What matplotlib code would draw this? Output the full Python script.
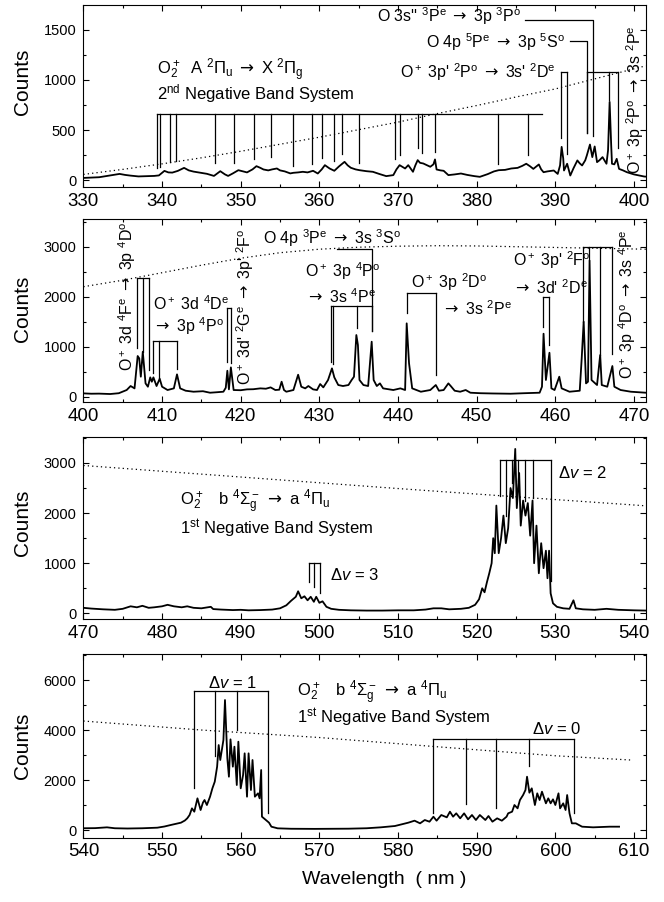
#!/usr/bin/env python3
"""
Emission spectrum of the O2+ / O / O+ lines, four wavelength windows
"""

import matplotlib

matplotlib.use("Agg")
import matplotlib.pyplot as plt
from matplotlib.ticker import MultipleLocator

plt.rcParams["font.family"] = ["Liberation Sans", "DejaVu Sans"]
plt.rcParams["mathtext.fontset"] = "custom"
plt.rcParams["mathtext.rm"] = "Liberation Sans"
plt.rcParams["mathtext.it"] = "Liberation Sans:italic"
plt.rcParams["mathtext.bf"] = "Liberation Sans:bold"
plt.rcParams["mathtext.sf"] = "DejaVu Sans"

# ---------------- 330-400 nm ----------------
p1_wl = [330.0, 331.0, 332.0, 333.0, 334.0, 334.6, 335.3, 336.0, 337.0, 338.0,
         339.0, 339.6, 340.3, 340.8, 341.3, 342.0, 342.8, 343.4, 344.0, 345.0,
         345.7, 346.6, 347.4, 348.0, 348.4, 349.0, 349.7, 350.3, 350.8, 351.5,
         352.0, 352.5, 352.9, 353.5, 354.0, 354.6, 355.0, 355.6, 356.3, 356.7,
         357.3, 357.9, 358.5, 359.2, 359.8, 360.3, 360.7, 361.3, 361.9, 362.5,
         363.2, 363.6, 364.0, 364.6, 365.1, 366.0, 366.8, 367.6, 368.5, 369.4,
         369.8, 370.2, 370.9, 371.3, 371.9, 372.2, 372.5, 372.8, 373.2, 373.7,
         374.1, 374.5, 374.7, 374.9, 375.4, 375.8, 376.4, 377.2, 378.0, 378.8,
         379.7, 380.4, 381.4, 382.2, 382.8, 383.6, 384.4, 385.2, 385.8, 386.3,
         386.8, 387.2, 387.9, 388.2, 388.5, 389.0, 389.8, 390.3, 390.6, 390.8,
         391.0, 391.1, 391.5, 391.9, 392.3, 392.8, 393.1, 393.4, 393.8, 394.0,
         394.4, 394.6, 394.7, 395.0, 395.3, 395.6, 396.0, 396.5, 396.7, 396.9,
         397.1, 397.2, 397.5, 397.8, 398.1, 398.6, 399.1, 400.0, 400.6, 401.3,
         401.5]
p1_counts = [25, 28, 32, 45, 58, 65, 55, 48, 40, 42,
             45, 50, 95, 80, 78, 95, 125, 100, 88, 75,
             66, 45, 92, 60, 45, 70, 102, 90, 80, 110,
             142, 125, 109, 100, 110, 119, 100, 90, 70, 76,
             80, 86, 80, 96, 69, 110, 152, 119, 96, 140,
             185, 150, 126, 110, 102, 92, 86, 65, 43, 53,
             110, 152, 119, 152, 86, 150, 202, 175, 169, 150,
             136, 160, 209, 109, 100, 96, 53, 60, 69, 55,
             43, 36, 63, 90, 102, 105, 119, 125, 145, 166,
             140, 115, 159, 110, 82, 90, 99, 65, 150, 334,
             220, 99, 166, 49, 120, 199, 170, 149, 200, 248,
             357, 270, 232, 338, 182, 200, 232, 166, 300, 781,
             350, 166, 160, 215, 115, 100, 82, 60, 50, 39,
             38]
p1_eff_wl = [330, 335, 340, 345, 350, 355, 360, 365, 370, 375, 380, 385, 390, 395, 401.5]
p1_eff = [60, 110, 165, 225, 290, 360, 430, 505, 580, 665, 745, 830, 910, 1010, 1140]

# O2+ 2nd negative band heads
p1_band_x = [339.3, 339.7, 341.0, 341.8, 346.7, 349.2, 351.7, 353.8, 356.7, 359.1,
             360.3, 361.9, 362.9, 365.1, 369.6, 370.3, 372.5, 373.1, 374.7, 382.7,
             386.5]
p1_band_end = [119, 135, 185, 192, 169, 169, 209, 229, 142, 159,
               228, 192, 261, 169, 212, 258, 318, 274, 278, 159,
               251]
p1_band_top = 665
p1_band_span = [339.3, 388.3]

# atomic lines near 390-398 nm
p1_o3s_x, p1_o3s_end, p1_o3s_top, p1_o3s_from = 394.75, 440, 1592, 386.15
p1_o4p_x, p1_o4p_end, p1_o4p_top, p1_o4p_from = 394.08, 473, 1384, 391.9
p1_opd_x = [390.73, 391.45]
p1_opd_end = [427, 261]
p1_opp_x = [394.08, 396.88, 397.98]
p1_opp_end = [473, 797, 318]
p1_ion_top = 1080

# ---------------- 400-470 nm ----------------
p2_wl = [400.0, 401.0, 402.0, 403.4, 404.5, 405.5, 406.0, 406.5, 406.9, 407.1,
         407.3, 407.55, 407.9, 408.2, 408.5, 408.7, 408.9, 409.3, 409.7, 410.0,
         410.7, 411.5, 411.9, 412.3, 413.0, 414.0, 415.2, 416.1, 417.0, 417.8,
         418.1, 418.3, 418.5, 418.75, 419.1, 420.0, 420.8, 421.6, 422.5, 423.2,
         423.8, 424.4, 424.9, 425.2, 425.5, 425.8, 426.7, 427.3, 427.7, 428.2,
         428.6, 429.2, 429.7, 430.1, 430.5, 431.1, 431.6, 431.9, 432.4, 433.0,
         433.7, 434.1, 434.4, 434.7, 434.9, 435.1, 435.6, 436.2, 436.65, 436.9,
         437.3, 437.7, 438.1, 439.4, 440.3, 440.9, 441.1, 441.4, 441.8, 442.9,
         444.1, 444.8, 445.2, 445.8, 446.4, 446.7, 447.2, 447.9, 448.6, 449.2,
         450.5, 452.0, 454.3, 456.0, 458.0, 458.3, 458.5, 458.8, 459.25, 459.5,
         459.9, 460.5, 460.8, 461.8, 463.1, 463.35, 463.6, 463.9, 464.15, 464.35,
         464.6, 465.3, 465.7, 465.9, 466.6, 467.25, 467.5, 468.3, 469.6, 471.5]
p2_counts = [67, 60, 62, 54, 70, 134, 214, 167, 814, 767,
             400, 900, 267, 200, 387, 300, 387, 214, 360, 200,
             134, 167, 447, 167, 120, 100, 110, 80, 90, 100,
             180, 520, 147, 587, 134, 130, 147, 150, 167, 160,
             187, 134, 140, 300, 134, 100, 134, 440, 200, 167,
             214, 147, 134, 254, 187, 334, 567, 387, 234, 214,
             234, 334, 400, 1234, 1034, 334, 234, 214, 1100, 334,
             214, 267, 167, 134, 167, 134, 1467, 667, 167, 100,
             134, 234, 120, 134, 267, 214, 120, 100, 134, 80,
             70, 65, 60, 70, 80, 200, 1260, 334, 880, 167,
             134, 400, 167, 100, 120, 767, 1500, 267, 300, 2720,
             334, 234, 834, 234, 200, 614, 200, 134, 100, 80]
p2_eff_wl = [400, 405, 410, 415, 420, 425, 430, 435, 440, 445, 450, 455, 460, 465, 471.5]
p2_eff = [2200, 2330, 2480, 2630, 2770, 2880, 2950, 2990, 3010, 3020, 3015, 3000, 2985, 2970, 2950]

p2_f4_x, p2_f4_end, p2_f4_top = [406.86, 407.54, 408.38], [967, 900, 530], 2367
p2_d4_x, p2_d4_end, p2_d4_top = [408.89, 409.65, 411.86], [480, 367, 547], 1120
p2_g2_x, p2_g2_end, p2_g2_top = [418.3, 418.73], [700, 680], 1780
p2_o4p_x, p2_o4p_end, p2_o4p_top, p2_o4p_from = 436.66, 1320, 2960, 432.2
p2_p4_x, p2_p4_end, p2_p4_top = [431.45, 431.68, 434.79, 436.66], [700, 650, 1367, 1320], 1810
p2_d2_x, p2_d2_end, p2_d2_top = [441.1, 444.84], [1680, 433], 2080
p2_f2_x, p2_f2_end, p2_f2_top = [458.48, 459.24], [1400, 1033], 2000
p2_dd_x, p2_dd_end, p2_dd_top = [463.57, 464.33, 465.69, 467.26], [1500, 2733, 833, 853], 3000

# ---------------- 470-540 nm ----------------
p3_wl = [470.0, 471.0, 472.5, 474.0, 475.0, 476.0, 476.8, 477.5, 478.3, 479.0,
         480.0, 480.7, 481.5, 482.5, 483.2, 484.0, 485.0, 486.2, 486.5, 487.5,
         489.0, 490.0, 491.0, 492.5, 494.0, 495.0, 495.8, 496.4, 497.0, 497.3,
         497.7, 498.1, 498.5, 498.9, 499.3, 499.6, 500.0, 500.4, 500.9, 501.5,
         502.5, 504.0, 506.0, 508.0, 510.0, 512.0, 513.5, 514.5, 515.5, 516.5,
         518.0, 519.0, 519.8, 520.3, 520.7, 521.0, 521.3, 521.6, 521.9, 522.1,
         522.3, 522.5, 522.8, 523.1, 523.4, 523.7, 524.0, 524.3, 524.6, 524.9,
         525.1, 525.4, 525.6, 525.9, 526.2, 526.5, 526.8, 527.1, 527.3, 527.6,
         527.9, 528.2, 528.5, 528.8, 529.0, 529.2, 529.4, 529.7, 530.2, 531.0,
         531.8, 532.3, 532.6, 533.5, 535.0, 536.5, 538.0, 540.0, 541.5]
p3_counts = [110, 95, 80, 70, 90, 140, 120, 150, 110, 120,
             140, 170, 140, 120, 140, 110, 100, 130, 85, 75,
             65, 70, 60, 65, 75, 100, 160, 250, 330, 440,
             300, 340, 260, 330, 230, 330, 210, 240, 130, 90,
             70, 60, 55, 55, 60, 60, 75, 100, 100, 80,
             90, 110, 170, 280, 500, 420, 620, 800, 1000, 1500,
             1200, 2150, 1200, 1500, 1950, 1400, 1700, 2500, 2300, 3280,
             2100, 2800, 1750, 2250, 1950, 2200, 1550, 2250, 1000, 1750,
             800, 1400, 900, 1250, 700, 1250, 400, 200, 130, 100,
             90, 260, 100, 80, 70, 90, 70, 60, 55]
p3_eff_wl = [470, 480, 490, 500, 510, 520, 530, 541.5]
p3_eff = [2950, 2835, 2720, 2605, 2490, 2380, 2270, 2145]

p3_v3_x, p3_v3_end, p3_v3_top = [498.7, 499.35, 500.05], [630, 531, 411], 1009
p3_v2_x = [522.9, 523.7, 524.5, 525.2, 526.2, 527.2, 529.4]
p3_v2_end = [2350, 1950, 2600, 2650, 2250, 2300, 650]
p3_v2_top = 3053

# ---------------- 540-610 nm ----------------
p4_wl = [540.0, 541.5, 543.0, 544.0, 545.6, 547.5, 549.4, 550.3, 551.1, 551.8,
         552.4, 552.9, 553.2, 553.5, 553.8, 554.1, 554.5, 554.9, 555.2, 555.4,
         555.7, 556.1, 556.4, 556.7, 557.0, 557.2, 557.4, 557.8, 558.0, 558.3,
         558.5, 558.7, 559.0, 559.2, 559.5, 559.7, 560.0, 560.3, 560.5, 560.8,
         561.0, 561.3, 561.5, 561.8, 562.2, 562.4, 562.6, 562.7, 563.2, 563.6,
         563.9, 564.7, 566.4, 569.4, 573.7, 576.0, 577.8, 579.6, 580.5, 581.3,
         582.1, 582.8, 583.4, 584.0, 584.5, 584.9, 585.5, 586.2, 586.6, 587.0,
         587.4, 587.9, 588.4, 588.9, 589.4, 589.9, 590.4, 591.1, 591.5, 592.0,
         592.6, 593.2, 593.8, 594.0, 594.5, 594.8, 595.2, 595.5, 595.9, 596.2,
         596.4, 596.7, 597.0, 597.4, 597.7, 598.0, 598.3, 598.8, 599.1, 599.4,
         599.7, 600.0, 600.4, 600.6, 601.0, 601.3, 601.5, 601.8, 602.1, 602.6,
         603.4, 604.8, 606.9, 608.1]
p4_counts = [70, 75, 107, 70, 60, 70, 93, 140, 200, 250,
             293, 380, 467, 600, 867, 733, 1267, 800, 1100, 1200,
             1000, 1333, 1667, 1933, 2533, 3400, 2800, 3600, 5200, 2867,
             2133, 3627, 2533, 3333, 1800, 3533, 1667, 2200, 3067, 1333,
             3067, 1600, 2800, 1333, 1467, 1267, 2400, 533, 400, 293,
             133, 67, 50, 45, 53, 70, 107, 160, 230, 293,
             373, 267, 400, 333, 533, 373, 600, 507, 733, 533,
             667, 467, 667, 427, 600, 400, 600, 400, 560, 333,
             467, 373, 533, 667, 733, 1000, 867, 1200, 1400, 1600,
             2133, 1493, 1667, 1000, 1467, 1200, 1533, 1067, 1267, 1067,
             1227, 1000, 1467, 867, 1067, 800, 1400, 667, 267, 267,
             133, 107, 133, 133]
p4_eff_wl = [540, 555, 570, 585, 600, 609.6]
p4_eff = [4360, 4000, 3700, 3330, 2970, 2800]

p4_v1_x, p4_v1_end, p4_v1_top = [554.05, 556.74, 559.47, 563.5], [1667, 2960, 4000, 667], 5560
p4_v0_x, p4_v0_end, p4_v0_top = [584.5, 588.6, 592.5, 596.6, 602.4], [667, 1027, 867, 2560, 693], 3627

LW_ANN = 0.9
TXT = 12
AR = r"$\mathsf{\rightarrow}$"


def bracket(ax, xs, ends, top, span=None):
    """Horizontal bar at `top` with a drop line to each end value."""
    x0, x1 = span if span else (min(xs), max(xs))
    ax.plot([x0, x1], [top, top], color="black", lw=LW_ANN)
    for x, e in zip(xs, ends):
        ax.plot([x, x], [top, e], color="black", lw=LW_ANN)


def leader(ax, x, end, top, x_from):
    """Elbow from a text label down to one line."""
    ax.plot([x_from, x, x], [top, top, end], color="black", lw=LW_ANN)


def setup_axes(ax, xlim, ylim, ymajor, label_y=0.5):
    ax.set_xlim(*xlim)
    ax.set_ylim(*ylim)
    ax.xaxis.set_major_locator(MultipleLocator(10))
    ax.xaxis.set_minor_locator(MultipleLocator(5))
    ax.yaxis.set_major_locator(MultipleLocator(ymajor))
    ax.yaxis.set_minor_locator(MultipleLocator(ymajor / 2))
    ax.tick_params(which="both", direction="in", top=True, right=True, width=0.8)
    ax.tick_params(which="major", length=4.5)
    ax.tick_params(which="minor", length=2.5)
    ax.tick_params(axis="x", labelsize=13.5, pad=4)
    ax.tick_params(axis="y", labelsize=10.5, pad=5)
    for s in ax.spines.values():
        s.set_linewidth(0.8)
    ax.set_ylabel("Counts", fontsize=15)
    ax.yaxis.set_label_coords(-0.092, label_y)


fig = plt.figure(figsize=(6.64, 9.02), dpi=100)
L, W = 0.1256, 0.847
ax1 = fig.add_axes([L, 0.7927, W, 0.2018])
ax2 = fig.add_axes([L, 0.5543, W, 0.2029])
ax3 = fig.add_axes([L, 0.3137, W, 0.2018])
ax4 = fig.add_axes([L, 0.0715, W, 0.2034])

spec = dict(color="black", lw=1.3)
dots = dict(color="black", lw=0.9, ls=(0, (1, 2.5)))

# ---- panel 1 ----
ax1.plot(p1_eff_wl, p1_eff, **dots)
ax1.plot(p1_wl, p1_counts, **spec)
bracket(ax1, p1_band_x, p1_band_end, p1_band_top, p1_band_span)
leader(ax1, p1_o3s_x, p1_o3s_end, p1_o3s_top, p1_o3s_from)
leader(ax1, p1_o4p_x, p1_o4p_end, p1_o4p_top, p1_o4p_from)
bracket(ax1, p1_opd_x, p1_opd_end, p1_ion_top)
bracket(ax1, p1_opp_x, p1_opp_end, p1_ion_top)
ax1.text(339.3, 1100, r"O$_2^+$  A $^2\Pi_\mathrm{u}$ " + AR + r" X $^2\Pi_\mathrm{g}$",
         fontsize=TXT, va="center")
ax1.text(339.3, 865, r"2$^\mathrm{nd}$ Negative Band System", fontsize=TXT, va="center")
ax1.text(385.6, 1630, r"O 3s'' $^3$P$^\mathrm{e}$ " + AR + r" 3p $^3$P$^\mathrm{o}$",
         fontsize=TXT - 0.5, ha="right", va="center")
ax1.text(391.2, 1380, r"O 4p $^5$P$^\mathrm{e}$ " + AR + r" 3p $^5$S$^\mathrm{o}$",
         fontsize=TXT - 0.5, ha="right", va="center")
ax1.text(390.0, 1080, r"O$^+$ 3p' $^2$P$^\mathrm{o}$ " + AR + r" 3s' $^2$D$^\mathrm{e}$",
         fontsize=TXT - 0.5, ha="right", va="center")
ax1.text(400.2, 800, r"O$^+$ 3p $^2$P$^\mathrm{o}$ " + AR + r" 3s $^2$P$^\mathrm{e}$",
         fontsize=TXT - 0.5, rotation=90, ha="center", va="center")
setup_axes(ax1, (330, 401.5), (-65, 1745), 500, label_y=0.58)

# ---- panel 2 ----
ax2.plot(p2_eff_wl, p2_eff, **dots)
ax2.plot(p2_wl, p2_counts, **spec)
bracket(ax2, p2_f4_x, p2_f4_end, p2_f4_top)
bracket(ax2, p2_d4_x, p2_d4_end, p2_d4_top)
bracket(ax2, p2_g2_x, p2_g2_end, p2_g2_top)
leader(ax2, p2_o4p_x, p2_o4p_end, p2_o4p_top, p2_o4p_from)
bracket(ax2, p2_p4_x, p2_p4_end, p2_p4_top)
bracket(ax2, p2_d2_x, p2_d2_end, p2_d2_top)
bracket(ax2, p2_f2_x, p2_f2_end, p2_f2_top)
bracket(ax2, p2_dd_x, p2_dd_end, p2_dd_top)
ax2.text(405.6, 2020, r"O$^+$ 3d $^4$F$^\mathrm{e}$ " + AR + r" 3p $^4$D$^\mathrm{o}$",
         fontsize=TXT - 0.5, rotation=90, ha="center", va="center")
ax2.text(408.8, 1870, r"O$^+$ 3d $^4$D$^\mathrm{e}$", fontsize=TXT - 0.5, va="center")
ax2.text(408.9, 1420, AR + r" 3p $^4$P$^\mathrm{o}$", fontsize=TXT - 0.5, va="center")
ax2.text(420.6, 1810, r"O$^+$ 3d' $^2$G$^\mathrm{e}$ " + AR + r" 3p' $^2$F$^\mathrm{o}$",
         fontsize=TXT - 0.5, rotation=90, ha="center", va="center")
ax2.text(422.8, 3170, r"O 4p $^3$P$^\mathrm{e}$ " + AR + r" 3s $^3$S$^\mathrm{o}$",
         fontsize=TXT - 0.5, va="center")
ax2.text(428.2, 2520, r"O$^+$ 3p $^4$P$^\mathrm{o}$", fontsize=TXT - 0.5, va="center")
ax2.text(428.3, 2000, AR + r" 3s $^4$P$^\mathrm{e}$", fontsize=TXT - 0.5, va="center")
ax2.text(441.6, 2290, r"O$^+$ 3p $^2$D$^\mathrm{o}$", fontsize=TXT - 0.5, va="center")
ax2.text(445.6, 1770, AR + r" 3s $^2$P$^\mathrm{e}$", fontsize=TXT - 0.5, va="center")
ax2.text(454.6, 2730, r"O$^+$ 3p' $^2$F$^\mathrm{o}$", fontsize=TXT - 0.5, va="center")
ax2.text(454.6, 2190, AR + r" 3d' $^2$D$^\mathrm{e}$", fontsize=TXT - 0.5, va="center")
ax2.text(469.1, 1850, r"O$^+$ 3p $^4$D$^\mathrm{o}$ " + AR + r" 3s $^4$P$^\mathrm{e}$",
         fontsize=TXT - 0.5, rotation=90, ha="center", va="center")
setup_axes(ax2, (400, 471.5), (-106, 3554), 1000, label_y=0.51)

# ---- panel 3 ----
ax3.plot(p3_eff_wl, p3_eff, **dots)
ax3.plot(p3_wl, p3_counts, **spec)
bracket(ax3, p3_v3_x, p3_v3_end, p3_v3_top)
bracket(ax3, p3_v2_x, p3_v2_end, p3_v2_top)
ax3.text(482.3, 2230, r"O$_2^+$   b $^4\Sigma_\mathrm{g}^-$ " + AR + r" a $^4\Pi_\mathrm{u}$",
         fontsize=TXT, va="center")
ax3.text(482.3, 1690, r"1$^\mathrm{st}$ Negative Band System", fontsize=TXT, va="center")
ax3.text(501.4, 765, r"Δ$v$ = 3", fontsize=TXT, va="center")
ax3.text(530.4, 2800, r"Δ$v$ = 2", fontsize=TXT, va="center")
setup_axes(ax3, (470, 541.5), (-114, 3518), 1000, label_y=0.53)

# ---- panel 4 ----
ax4.plot(p4_eff_wl, p4_eff, **dots)
ax4.plot(p4_wl, p4_counts, **spec)
bracket(ax4, p4_v1_x, p4_v1_end, p4_v1_top)
bracket(ax4, p4_v0_x, p4_v0_end, p4_v0_top)
ax4.text(555.8, 5870, r"Δ$v$ = 1", fontsize=TXT, va="center")
ax4.text(567.1, 5470, r"O$_2^+$   b $^4\Sigma_\mathrm{g}^-$ " + AR + r" a $^4\Pi_\mathrm{u}$",
         fontsize=TXT, va="center")
ax4.text(567.1, 4510, r"1$^\mathrm{st}$ Negative Band System", fontsize=TXT, va="center")
ax4.text(597.0, 4030, r"Δ$v$ = 0", fontsize=TXT, va="center")
setup_axes(ax4, (540, 611.5), (-300, 7040), 2000, label_y=0.5)

fig.text(384 / 664, 1 - 879 / 902, "Wavelength  ( nm )", fontsize=14,
         ha="center", va="center")

fig.savefig("out.png", dpi=100)
